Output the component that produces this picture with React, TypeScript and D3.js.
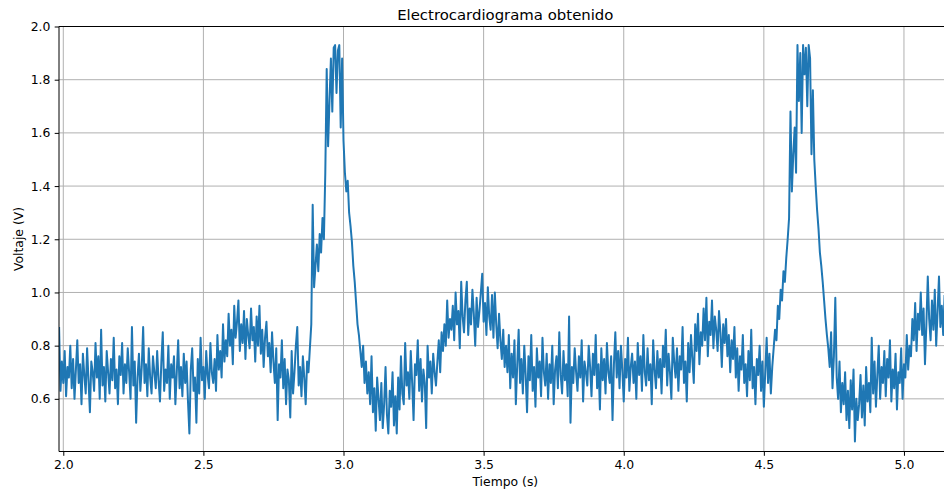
import { useEffect, useRef } from 'react';
import * as d3 from 'd3';

// muestreo uniforme: primer instante y paso (s)
const t0 = 1.985;
const dt = 0.005;

const tramoBase1 = [
  0.87, 0.63, 0.74, 0.66, 0.78, 0.61, 0.72, 0.68, 0.8, 0.64,
  0.75, 0.6, 0.71, 0.82, 0.66, 0.73, 0.58, 0.77, 0.69, 0.62,
  0.79, 0.67, 0.55, 0.74, 0.7, 0.63, 0.81, 0.68, 0.76, 0.6,
  0.86, 0.65, 0.72, 0.59, 0.78, 0.7, 0.62, 0.75, 0.67, 0.83,
  0.64, 0.71, 0.58, 0.76, 0.69, 0.81, 0.62, 0.73, 0.66, 0.79,
  0.7, 0.6, 0.87, 0.65, 0.74, 0.51, 0.68, 0.77, 0.63, 0.72,
  0.87, 0.66, 0.73, 0.61, 0.79, 0.68, 0.62, 0.76, 0.7, 0.64,
  0.78, 0.67, 0.59, 0.74, 0.85, 0.63, 0.71, 0.66, 0.8, 0.6,
  0.73, 0.68, 0.76, 0.58, 0.7, 0.82, 0.64, 0.72, 0.61, 0.77,
  0.66, 0.74, 0.59, 0.47, 0.71, 0.79, 0.63, 0.68, 0.51, 0.75,
  0.62, 0.83, 0.67, 0.72, 0.6, 0.78, 0.69, 0.64, 0.81, 0.7,
];

const tramoOndaP1 = [
  0.66, 0.75, 0.63, 0.84, 0.71, 0.78, 0.68, 0.88, 0.74, 0.82,
  0.76, 0.92, 0.8, 0.86, 0.73, 0.95, 0.83, 0.89, 0.97, 0.78,
  0.88, 0.81, 0.93, 0.75, 0.9, 0.84, 0.79, 0.94, 0.82, 0.87,
  0.74, 0.91, 0.8, 0.95, 0.77, 0.86, 0.72, 0.83, 0.89, 0.76,
  0.81, 0.7, 0.85, 0.74, 0.66, 0.79, 0.52, 0.73, 0.68, 0.82,
  0.64, 0.75, 0.58, 0.71, 0.67, 0.53, 0.78, 0.62, 0.7, 0.8,
  0.87, 0.65, 0.72, 0.61, 0.76, 0.68, 0.58, 0.74, 0.7, 0.79,
];

const tramoQRS1 = [
  0.88, 1.33, 1.02, 1.1, 1.18, 1.08, 1.22, 1.15, 1.28, 1.2,
  1.45, 1.84, 1.55, 1.72, 1.88, 1.68, 1.92, 1.93, 1.75, 1.91,
  1.93, 1.62, 1.88, 1.57, 1.45, 1.38, 1.42, 1.3, 1.25, 1.19,
  1.1, 1.04, 0.96, 0.88, 0.84, 0.78, 0.72, 0.8, 0.66, 0.74,
];

const tramoST1 = [
  0.62, 0.7, 0.58, 0.76, 0.55, 0.64, 0.48, 0.68, 0.6, 0.52,
  0.66, 0.49, 0.58, 0.72, 0.54, 0.47, 0.63, 0.57, 0.7, 0.5,
  0.61, 0.47, 0.68, 0.56, 0.76, 0.62, 0.58, 0.81, 0.65, 0.7,
  0.6, 0.78, 0.66, 0.52, 0.73, 0.69, 0.82, 0.63, 0.75, 0.59,
  0.71, 0.66, 0.49, 0.8, 0.68, 0.74, 0.62, 0.77, 0.7, 0.65,
];

const tramoOndaT1 = [
  0.74, 0.82, 0.7, 0.85, 0.78, 0.88, 0.8, 0.97, 0.83, 0.9,
  0.86, 0.95, 0.82, 1.0, 0.88, 0.93, 0.79, 1.04, 0.91, 0.85,
  0.97, 1.04, 0.84, 0.94, 0.88, 1.01, 0.92, 0.8, 0.98, 0.87,
  0.93, 1.0, 1.07, 0.89, 0.96, 0.84, 1.02, 0.91, 0.86, 0.99,
  0.83, 1.0, 0.88, 0.79, 0.92, 0.82, 0.75, 0.86, 0.72, 0.8,
];

const tramoBase2 = [
  0.7, 0.84, 0.64, 0.77, 0.68, 0.82, 0.58, 0.73, 0.86, 0.66,
  0.75, 0.62, 0.8, 0.69, 0.55, 0.76, 0.67, 0.84, 0.63, 0.72,
  0.57, 0.79, 0.68, 0.74, 0.61, 0.83, 0.7, 0.65, 0.77, 0.6,
  0.73, 0.66, 0.8, 0.58, 0.71, 0.76, 0.64, 0.85, 0.69, 0.62,
  0.78, 0.67, 0.73, 0.61, 0.91, 0.51, 0.72, 0.66, 0.79, 0.7,
  0.63, 0.76, 0.68, 0.82, 0.59, 0.74, 0.7, 0.65, 0.8, 0.72,
  0.61, 0.77, 0.69, 0.84, 0.64, 0.73, 0.56, 0.79, 0.67, 0.75,
  0.62, 0.81, 0.7, 0.66, 0.76, 0.52, 0.73, 0.85, 0.68, 0.78,
  0.64, 0.8, 0.71, 0.59, 0.75, 0.68, 0.83, 0.63, 0.72, 0.77,
  0.66, 0.74, 0.6, 0.81, 0.69, 0.76, 0.63, 0.84, 0.7, 0.65,
  0.79, 0.67, 0.73, 0.58, 0.82, 0.71, 0.64, 0.78, 0.68, 0.75,
  0.62, 0.8, 0.72, 0.86, 0.65, 0.77, 0.7, 0.6, 0.83, 0.74,
  0.68, 0.79, 0.63, 0.76, 0.71, 0.87, 0.66, 0.74, 0.59, 0.81,
];

const tramoOndaP2 = [
  0.7, 0.84, 0.75, 0.66, 0.88, 0.78, 0.92, 0.73, 0.85, 0.8,
  0.94, 0.82, 0.98, 0.76, 0.89, 0.84, 0.97, 0.79, 0.91, 0.86,
  0.78, 0.93, 0.85, 0.72, 0.88, 0.81, 0.9, 0.76, 0.84, 0.7,
  0.82, 0.75, 0.87, 0.68, 0.79, 0.63, 0.76, 0.71, 0.84, 0.66,
  0.73, 0.61, 0.78, 0.67, 0.86, 0.64, 0.72, 0.58, 0.75, 0.69,
  0.8, 0.63, 0.74, 0.57, 0.7, 0.83, 0.66, 0.77, 0.62, 0.72,
];

const tramoQRS2 = [
  0.79, 0.86, 0.82, 0.95, 0.9, 1.01, 0.97, 1.08, 1.04, 1.13,
  1.2, 1.28, 1.68, 1.38, 1.52, 1.62, 1.45, 1.93, 1.72, 1.9,
  1.6, 1.93, 1.82, 1.92, 1.7, 1.93, 1.88, 1.52, 1.76, 1.5,
  1.4, 1.31, 1.24, 1.15, 1.1, 1.04, 0.97, 0.9, 0.84, 0.79,
];

const tramoST2 = [
  0.72, 0.85, 0.64, 0.76, 0.98, 0.68, 0.6, 0.74, 0.55, 0.66,
  0.58, 0.7, 0.52, 0.63, 0.49, 0.67, 0.56, 0.71, 0.44, 0.6,
  0.52, 0.58, 0.69, 0.53, 0.65, 0.5, 0.72, 0.59, 0.66, 0.55,
  0.83, 0.62, 0.74, 0.57, 0.69, 0.8, 0.6, 0.72, 0.66, 0.78,
  0.61, 0.75, 0.68, 0.82, 0.59, 0.71, 0.64, 0.77, 0.56, 0.7,
  0.66, 0.79, 0.6, 0.73, 0.68, 0.84, 0.71, 0.8, 0.76, 0.9,
];

const tramoOndaT2 = [
  0.82, 0.96, 0.78, 0.92, 0.86, 1.0, 0.84, 0.94, 0.73, 0.88,
  1.06, 0.9, 0.82, 0.97, 0.86, 1.01, 0.8, 0.93, 1.06, 0.87,
  0.95, 0.84, 0.99,
];

const voltaje = [
  ...tramoBase1,
  ...tramoOndaP1,
  ...tramoQRS1,
  ...tramoST1,
  ...tramoOndaT1,
  ...tramoBase2,
  ...tramoOndaP2,
  ...tramoQRS2,
  ...tramoST2,
  ...tramoOndaT2,
];

const xTicks = [2.0, 2.5, 3.0, 3.5, 4.0, 4.5, 5.0];
const yTicks = [0.6, 0.8, 1.0, 1.2, 1.4, 1.6, 1.8, 2.0];

const App = () => {
  const svgRef = useRef<SVGSVGElement | null>(null);

  useEffect(() => {
    document.body.style.margin = '0';

    const width = 944;
    const height = 497;
    const left = 59;
    const right = 951.6;
    const top = 26.5;
    const bottom = 451.5;
    const font = 'DejaVu Sans, sans-serif';

    const data = voltaje.map((v, i) => ({ t: t0 + i * dt, v }));

    const x = d3.scaleLinear().domain([1.9847, 5.17]).range([left, right]);
    const y = d3.scaleLinear().domain([0.402, 2.0]).range([bottom, top]);

    const svg = d3.select(svgRef.current);
    svg.selectAll('*').remove();
    svg.attr('width', width).attr('height', height);

    svg
      .append('defs')
      .append('clipPath')
      .attr('id', 'area')
      .append('rect')
      .attr('x', left)
      .attr('y', top)
      .attr('width', right - left)
      .attr('height', bottom - top);

    // rejilla
    const grid = svg.append('g').attr('stroke', '#b0b0b0').attr('stroke-width', 1);
    grid
      .selectAll('line.gx')
      .data(xTicks)
      .join('line')
      .attr('x1', (d) => x(d))
      .attr('x2', (d) => x(d))
      .attr('y1', top)
      .attr('y2', bottom);
    grid
      .selectAll('line.gy')
      .data(yTicks)
      .join('line')
      .attr('class', 'gy')
      .attr('x1', left)
      .attr('x2', right)
      .attr('y1', (d) => y(d))
      .attr('y2', (d) => y(d));

    const line = d3
      .line<{ t: number; v: number }>()
      .x((d) => x(d.t))
      .y((d) => y(d.v));

    svg
      .append('path')
      .datum(data)
      .attr('clip-path', 'url(#area)')
      .attr('fill', 'none')
      .attr('stroke', '#1f77b4')
      .attr('stroke-width', 2)
      .attr('stroke-linejoin', 'round')
      .attr('d', line);

    // ejes
    const xAxis = d3
      .axisBottom(x)
      .tickValues(xTicks)
      .tickSize(4.3)
      .tickPadding(4.3)
      .tickFormat(d3.format('.1f'));
    const yAxis = d3
      .axisLeft(y)
      .tickValues(yTicks)
      .tickSize(4.3)
      .tickPadding(4.3)
      .tickFormat(d3.format('.1f'));

    const gx = svg
      .append('g')
      .attr('transform', `translate(0,${bottom})`)
      .call(xAxis);
    const gy = svg.append('g').attr('transform', `translate(${left},0)`).call(yAxis);

    [gx, gy].forEach((g) => {
      g.select('.domain').remove();
      g.selectAll('line').attr('stroke', '#000').attr('stroke-width', 1);
      g.selectAll('text')
        .attr('fill', '#000')
        .style('font-family', font)
        .style('font-size', '12.4px');
    });

    // marco (izquierda, abajo, arriba)
    const frame = svg.append('g').attr('stroke', '#000').attr('stroke-width', 1);
    frame.append('line').attr('x1', left).attr('x2', left).attr('y1', top).attr('y2', bottom);
    frame.append('line').attr('x1', left).attr('x2', right).attr('y1', bottom).attr('y2', bottom);
    frame.append('line').attr('x1', left).attr('x2', right).attr('y1', top).attr('y2', top);
    frame.append('line').attr('x1', right).attr('x2', right).attr('y1', top).attr('y2', bottom);

    svg
      .append('text')
      .attr('x', (left + right) / 2)
      .attr('y', 19.5)
      .attr('text-anchor', 'middle')
      .style('font-family', font)
      .style('font-size', '14.9px')
      .text('Electrocardiograma obtenido');

    svg
      .append('text')
      .attr('x', (left + right) / 2)
      .attr('y', 486)
      .attr('text-anchor', 'middle')
      .style('font-family', font)
      .style('font-size', '12.4px')
      .text('Tiempo (s)');

    svg
      .append('text')
      .attr('transform', `translate(22.5,${(top + bottom) / 2}) rotate(-90)`)
      .attr('text-anchor', 'middle')
      .style('font-family', font)
      .style('font-size', '12.4px')
      .text('Voltaje (V)');
  }, []);

  return <svg ref={svgRef} style={{ display: 'block' }}></svg>;
};

export default App;
